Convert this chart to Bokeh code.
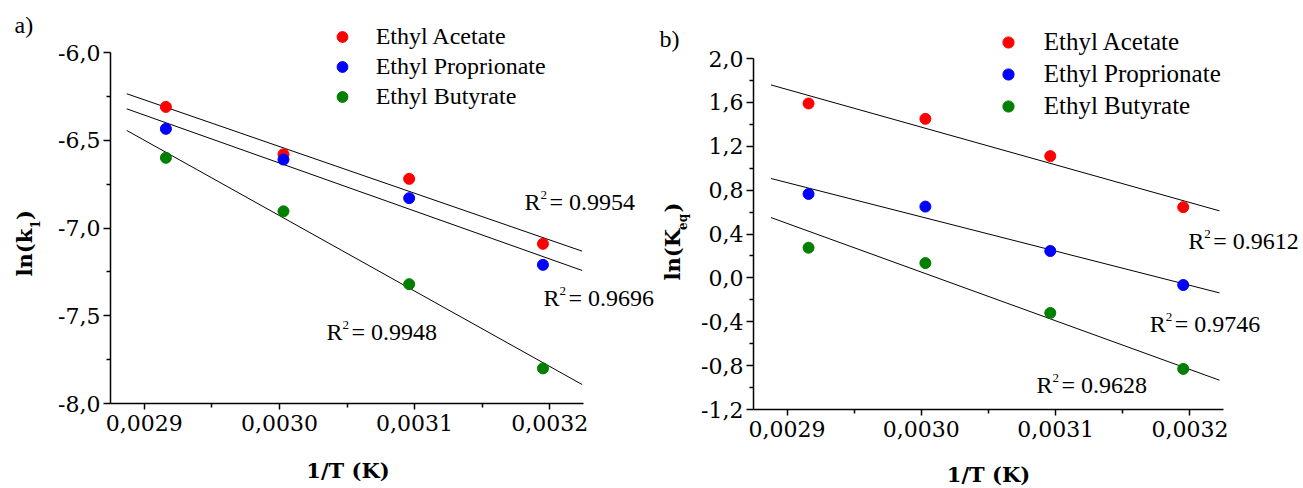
import numpy as np
from bokeh.plotting import figure
from bokeh.layouts import row, column
from bokeh.models import Range1d, FixedTicker, Label, Legend, LegendItem, CustomJSTickFormatter
from bokeh.embed import file_html
from bokeh.resources import INLINE

# ---------------- data ----------------
inv_T = [0.002916, 0.003003, 0.003096, 0.003195]
series = ["Ethyl Acetate", "Ethyl Proprionate", "Ethyl Butyrate"]
colors = ["#ff0000", "#0000ff", "#008000"]

# panel a) ln(k1)
lnk1_acetate = [-6.31, -6.58, -6.72, -7.09]
lnk1_propionate = [-6.435, -6.61, -6.83, -7.21]
lnk1_butyrate = [-6.60, -6.905, -7.32, -7.80]
fit_x_a = [0.002887, 0.003224]
fit_a_acetate = [-6.235, -7.132]
fit_a_propionate = [-6.321, -7.242]
fit_a_butyrate = [-6.444, -7.892]
r2_a = ["0.9954", "0.9696", "0.9948"]

# panel b) ln(Keq)
lnkeq_acetate = [1.59, 1.45, 1.11, 0.645]
lnkeq_propionate = [0.765, 0.65, 0.245, -0.065]
lnkeq_butyrate = [0.275, 0.135, -0.32, -0.83]
fit_x_b = [0.002888, 0.003222]
fit_b_acetate = [1.759, 0.611]
fit_b_propionate = [0.906, -0.137]
fit_b_butyrate = [0.550, -0.933]
r2_b = ["0.9612", "0.9746", "0.9628"]

# axes
x_bounds = (0.002875, 0.003225)
x_ticks = [0.0029, 0.0030, 0.0031, 0.0032]
x_tick_labels = ["0,0029", "0,0030", "0,0031", "0,0032"]
x_minor = [0.00295, 0.00305, 0.00315]
a_y_bounds = (-8.0, -6.0)
a_y_ticks = [-8.0, -7.5, -7.0, -6.5, -6.0]
a_y_tick_labels = ["-8,0", "-7,5", "-7,0", "-6,5", "-6,0"]
a_y_minor = [-7.75, -7.25, -6.75, -6.25]
b_y_bounds = (-1.2, 2.0)
b_y_ticks = [-1.2, -0.8, -0.4, 0.0, 0.4, 0.8, 1.2, 1.6, 2.0]
b_y_tick_labels = ["-1,2", "-0,8", "-0,4", "0,0", "0,4", "0,8", "1,2", "1,6", "2,0"]
b_y_minor = [-1.0, -0.6, -0.2, 0.2, 0.6, 1.0, 1.4, 1.8]

FONT = "serif"
BOLD_FONT = "DejaVu Serif"
AXIS_FONT = "DejaVu Serif"
H = 488          # page height
HR = 450         # height of the row holding the two panels
BIAS = 0.36      # label anchor correction (fraction of font size)


def fmt(tv, tl):
    return CustomJSTickFormatter(args=dict(tv=tv, tl=tl), code="""
        for (let i = 0; i < tv.length; i++) {
            if (Math.abs(tv[i] - tick) < 1e-9) return tl[i];
        }
        return '';
    """)


def style_axis(ax, tick_out, standoff):
    ax.axis_line_width = 1.5
    ax.axis_line_color = "black"
    ax.major_tick_line_width = 1.5
    ax.minor_tick_line_width = 1.5
    ax.major_tick_line_color = "black"
    ax.minor_tick_line_color = "black"
    ax.major_tick_in = 0
    ax.major_tick_out = tick_out
    ax.minor_tick_in = 0
    ax.minor_tick_out = 4
    ax.major_label_text_font = AXIS_FONT
    ax.major_label_text_font_size = "22px"
    ax.major_label_text_color = "black"
    ax.major_label_standoff = standoff


def make_panel(canvas_left, frame_left, frame_right, axis_top, axis_bottom, axis_right,
               xb, yb, y_ticks, y_labels, y_minor):
    fw = frame_right - frame_left
    fh = axis_bottom
    x_per_px = (xb[1] - xb[0]) / (axis_right - frame_left)
    y_per_px = (yb[1] - yb[0]) / (axis_bottom - axis_top)
    xr = (xb[0], xb[0] + fw * x_per_px)
    yr = (yb[0], yb[1] + axis_top * y_per_px)
    p = figure(frame_width=fw, frame_height=fh,
               min_border_left=frame_left - canvas_left, min_border_right=0,
               min_border_top=0, min_border_bottom=HR - fh,
               x_range=Range1d(*xr), y_range=Range1d(*yr),
               output_backend="svg", toolbar_location=None, tools="", title=None)
    p.xgrid.visible = False
    p.ygrid.visible = False
    p.outline_line_color = None
    p.background_fill_color = "white"
    p.border_fill_color = "white"
    p.xaxis.bounds = xb
    p.yaxis.bounds = yb
    p.xaxis.ticker = FixedTicker(ticks=x_ticks, minor_ticks=x_minor)
    p.xaxis.formatter = fmt(x_ticks, x_tick_labels)
    p.yaxis.ticker = FixedTicker(ticks=y_ticks, minor_ticks=y_minor)
    p.yaxis.formatter = fmt(y_ticks, y_labels)
    style_axis(p.xaxis[0], 6, 5)
    style_axis(p.yaxis[0], 7, 3)

    def sx(pxv):
        return pxv - frame_left

    def sy(pyv):
        return fh - pyv

    return p, sx, sy


def make_strip(width, height):
    p = figure(frame_width=width, frame_height=height, min_border=0,
               x_range=Range1d(0, width), y_range=Range1d(0, height),
               x_axis_type=None, y_axis_type=None,
               output_backend="svg", toolbar_location=None, tools="", title=None)
    p.xgrid.visible = False
    p.ygrid.visible = False
    p.outline_line_color = None
    return p


def add_text(p, x, y, text, size, bold=False, angle=0.0, align="left", xo=0, yo=0):
    if angle == 0:
        y = y + BIAS * size
    else:
        x = x - BIAS * size
    p.add_layout(Label(x=x, y=y, x_units="screen", y_units="screen", text=text,
                       text_font=BOLD_FONT if bold else FONT, text_font_size=f"{size}px",
                       text_font_style="bold" if bold else "normal", text_color="black",
                       angle=angle, text_align=align, text_baseline="alphabetic",
                       x_offset=xo, y_offset=yo))


def add_r2(p, x, y, val):
    add_text(p, x, y, "R", 24)
    add_text(p, x, y, "2", 13, xo=16, yo=11)
    add_text(p, x, y, "= " + val, 24, xo=25)


def add_legend(p, renderers, loc, gh, spacing, standoff, size):
    items = [LegendItem(label=s, renderers=[r]) for s, r in zip(series, renderers)]
    lg = Legend(items=items, location=loc, orientation="vertical",
                glyph_width=28, glyph_height=gh, label_height=gh, spacing=spacing,
                label_standoff=standoff, padding=0, margin=0,
                border_line_color=None, background_fill_alpha=0,
                label_text_font=FONT, label_text_font_size=f"{size}px",
                label_text_color="black")
    p.add_layout(lg)


# ---------------- side strip a (panel letter and y title) ----------------
sa = make_strip(48, HR)
add_text(sa, 14, HR - 33.5, "a)", 24)
add_text(sa, 31.5, HR - 276, "ln(k", 21, bold=True, angle=np.pi / 2)
add_text(sa, 39, HR - 228, "1", 12, bold=True, angle=np.pi / 2)
add_text(sa, 31.5, HR - 219.5, ")", 21, bold=True, angle=np.pi / 2)

# ---------------- panel a (its frame also hosts the b) letter and y title) ----------------
pa, ax_, ay_ = make_panel(48, 110, 697, 52, 403, 583, x_bounds, a_y_bounds,
                          a_y_ticks, a_y_tick_labels, a_y_minor)
ra = []
for fit in [fit_a_acetate, fit_a_propionate, fit_a_butyrate]:
    pa.line(fit_x_a, fit, line_color="black", line_width=1)
for vals, c in zip([lnk1_acetate, lnk1_propionate, lnk1_butyrate], colors):
    ra.append(pa.scatter(inv_T, vals, size=11, fill_color=c, line_color=c))
add_legend(pa, ra, (217.7, 293.5), 27, 3, 20, 24)
for (lx, ly), val in zip([(524, 210), (543, 306), (326, 340)], r2_a):
    add_r2(pa, ax_(lx), ay_(ly), val)
add_text(pa, ax_(659), ay_(46.7), "b)", 24)
add_text(pa, ax_(680), ay_(280), "ln(K", 21, bold=True, angle=np.pi / 2)
add_text(pa, ax_(687), ay_(229.5), "eq", 12, bold=True, angle=np.pi / 2)
add_text(pa, ax_(680), ay_(212), ")", 21, bold=True, angle=np.pi / 2)

# ---------------- panel b ----------------
pb, bx_, by_ = make_panel(697, 753, 1303, 58, 409, 1223, x_bounds, b_y_bounds,
                          b_y_ticks, b_y_tick_labels, b_y_minor)
rb = []
for fit in [fit_b_acetate, fit_b_propionate, fit_b_butyrate]:
    pb.line(fit_x_b, fit, line_color="black", line_width=1)
for vals, c in zip([lnkeq_acetate, lnkeq_propionate, lnkeq_butyrate], colors):
    rb.append(pb.scatter(inv_T, vals, size=11, fill_color=c, line_color=c))
add_legend(pb, rb, (240.7, 289.3), 28, 4, 22, 25)
for (lx, ly), val in zip([(1187.7, 249.3), (1149.3, 332), (1036, 393.3)], r2_b):
    add_r2(pb, bx_(lx), by_(ly), val)

# ---------------- bottom strip with the x titles ----------------
bs = make_strip(1303, H - HR)
add_text(bs, 347.5, H - 478, "1/T (K)", 21, bold=True, align="center")
add_text(bs, 988, H - 482, "1/T (K)", 21, bold=True, align="center")

layout = column(row(sa, pa, pb), bs)
open("out.html", "w").write(file_html(layout, INLINE))
